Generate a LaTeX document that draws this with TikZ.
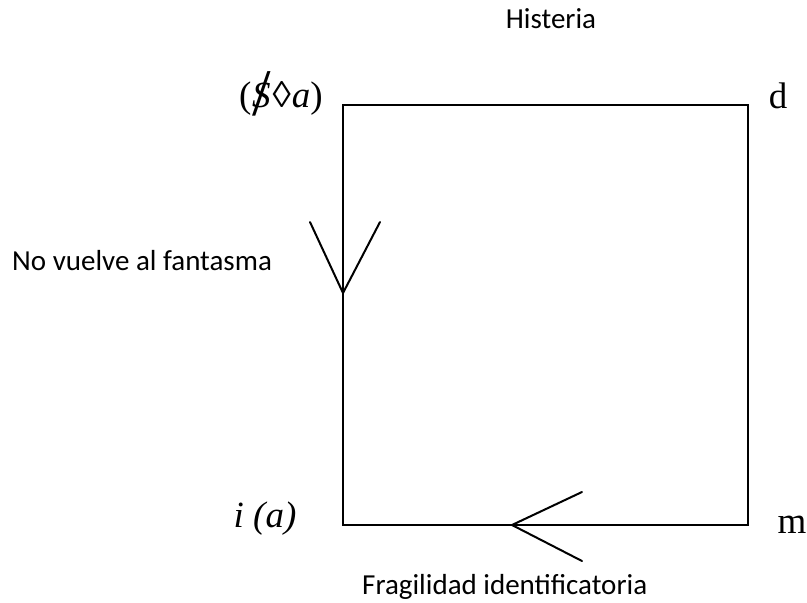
\documentclass[tikz,border=0pt]{standalone}
\usepackage{fontspec}
\setmainfont{Liberation Serif}
\newfontfamily\calib{Carlito}
\begin{document}
\begin{tikzpicture}[x=1pt,y=-1pt,
  edge/.style={line width=2pt, line cap=round},
  sanslabel/.style={font=\calib\fontsize{29}{34}\selectfont, inner sep=0pt, anchor=base},
  seriflabel/.style={font=\fontsize{37}{42}\selectfont, inner sep=0pt, anchor=base}]
\useasboundingbox (0,0) rectangle (807,603);
\coordinate (tl) at (343,105);
\coordinate (tr) at (748,105);
\coordinate (br) at (748,525);
\coordinate (bl) at (343,525);
\draw[edge, line cap=butt] (tl) -- (tr) -- (br) -- (bl) -- cycle;
% left arrow
\coordinate (lt) at (343,293);
\coordinate (la) at (310,222);
\coordinate (lb) at (380,222);
\draw[edge] (la) -- (lt) -- (lb);
% bottom arrow
\coordinate (bt) at (512,525);
\coordinate (ba) at (582,492);
\coordinate (bb) at (582,561);
\draw[edge] (ba) -- (bt) -- (bb);
% labels
\node[sanslabel] (hist) at (551,28) {Histeria};
\node[sanslabel, anchor=base west] (nv) at (12,270) {No vuelve al fantasma};
\node[sanslabel, anchor=base west] (frag) at (362,594) {Fragilidad identificatoria};
\node[seriflabel] (fant) at (281,107) {(\kern0.02em\rlap{\kern0.02em\raisebox{-0.22em}{\scalebox{1.8}{/}}}\textit{S}\kern0.05em◊\kern0.03em\textit{a})};
\node[seriflabel] (d) at (778,108) {d};
\node[seriflabel] (ia) at (265,527) {\textit{i (a)}};
\node[seriflabel] (m) at (792,533) {m};
\end{tikzpicture}
\end{document}
